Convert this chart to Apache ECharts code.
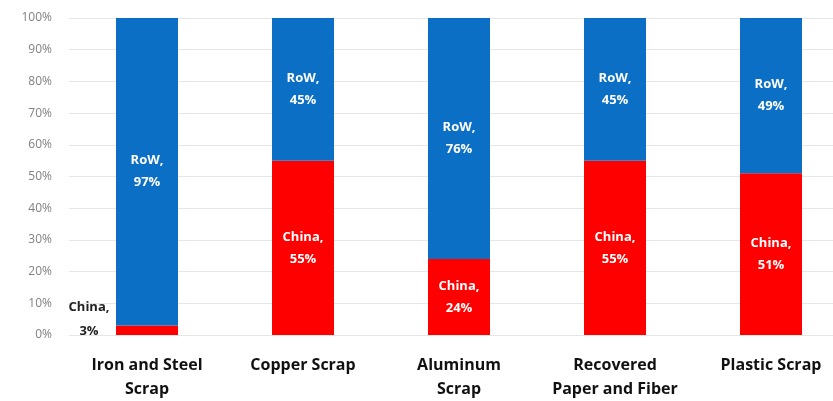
<!DOCTYPE html>
<html>
<head>
<meta charset="utf-8">
<script src="https://cdn.jsdelivr.net/npm/echarts@6/dist/echarts.min.js"></script>
<style>
  html, body { margin: 0; padding: 0; background: #fff; overflow: hidden; }
  /* the plot runs past the right edge of the picture, as in the original */
  #chart { width: 849px; height: 401px; }
</style>
</head>
<body>
<div id="chart"></div>
<script>
var categories = ['Iron and Steel\nScrap', 'Copper Scrap', 'Aluminum\nScrap', 'Recovered\nPaper and Fiber', 'Plastic Scrap'];
var chinaShare = [3, 55, 24, 55, 51];
var rowShare = [97, 45, 76, 45, 49];
var yTicks = [0, 10, 20, 30, 40, 50, 60, 70, 80, 90, 100];

var font = '"Open Sans", "DejaVu Sans", sans-serif';

var chinaData = chinaShare.map(function (v, i) {
  // a sliver of bar has no room for its label, so it sits up on the left in dark text
  if (v < 10) {
    return {
      value: v,
      label: { position: [-27, -30], align: 'center', verticalAlign: 'top', color: '#222', lineHeight: 24 }
    };
  }
  return v;
});

var chart = echarts.init(document.getElementById('chart'));
chart.setOption({
  animation: false,
  grid: { left: 69, top: 18, right: 0, bottom: 66 },
  xAxis: {
    type: 'category',
    data: categories,
    axisLine: { show: false },
    axisTick: { show: false },
    axisLabel: {
      color: '#111',
      fontFamily: font,
      fontWeight: 'bold',
      fontSize: 16,
      lineHeight: 24,
      margin: 18,
      interval: 0
    }
  },
  yAxis: {
    type: 'value',
    min: yTicks[0],
    max: yTicks[yTicks.length - 1],
    interval: 10,
    axisLine: { show: false },
    axisTick: { show: false },
    splitLine: { lineStyle: { color: '#e6e6e6', width: 1 } },
    axisLabel: {
      color: '#808080',
      fontFamily: font,
      fontSize: 12,
      margin: 17,
      formatter: function (v) { return v + '%'; }
    }
  },
  series: [
    {
      name: 'China',
      type: 'bar',
      stack: 'share',
      barWidth: 62,
      data: chinaData,
      itemStyle: { color: '#ff0000' },
      label: {
        show: true,
        position: 'inside',
        color: '#fff',
        fontFamily: font,
        fontWeight: 'bold',
        fontSize: 13,
        lineHeight: 22,
        formatter: function (p) { return 'China,\n' + p.value + '%'; }
      }
    },
    {
      name: 'RoW',
      type: 'bar',
      stack: 'share',
      barWidth: 62,
      data: rowShare,
      itemStyle: { color: '#0b6fc6' },
      label: {
        show: true,
        position: 'inside',
        color: '#fff',
        fontFamily: font,
        fontWeight: 'bold',
        fontSize: 13,
        lineHeight: 22,
        formatter: function (p) { return 'RoW,\n' + p.value + '%'; }
      }
    }
  ]
});
</script>
</body>
</html>
